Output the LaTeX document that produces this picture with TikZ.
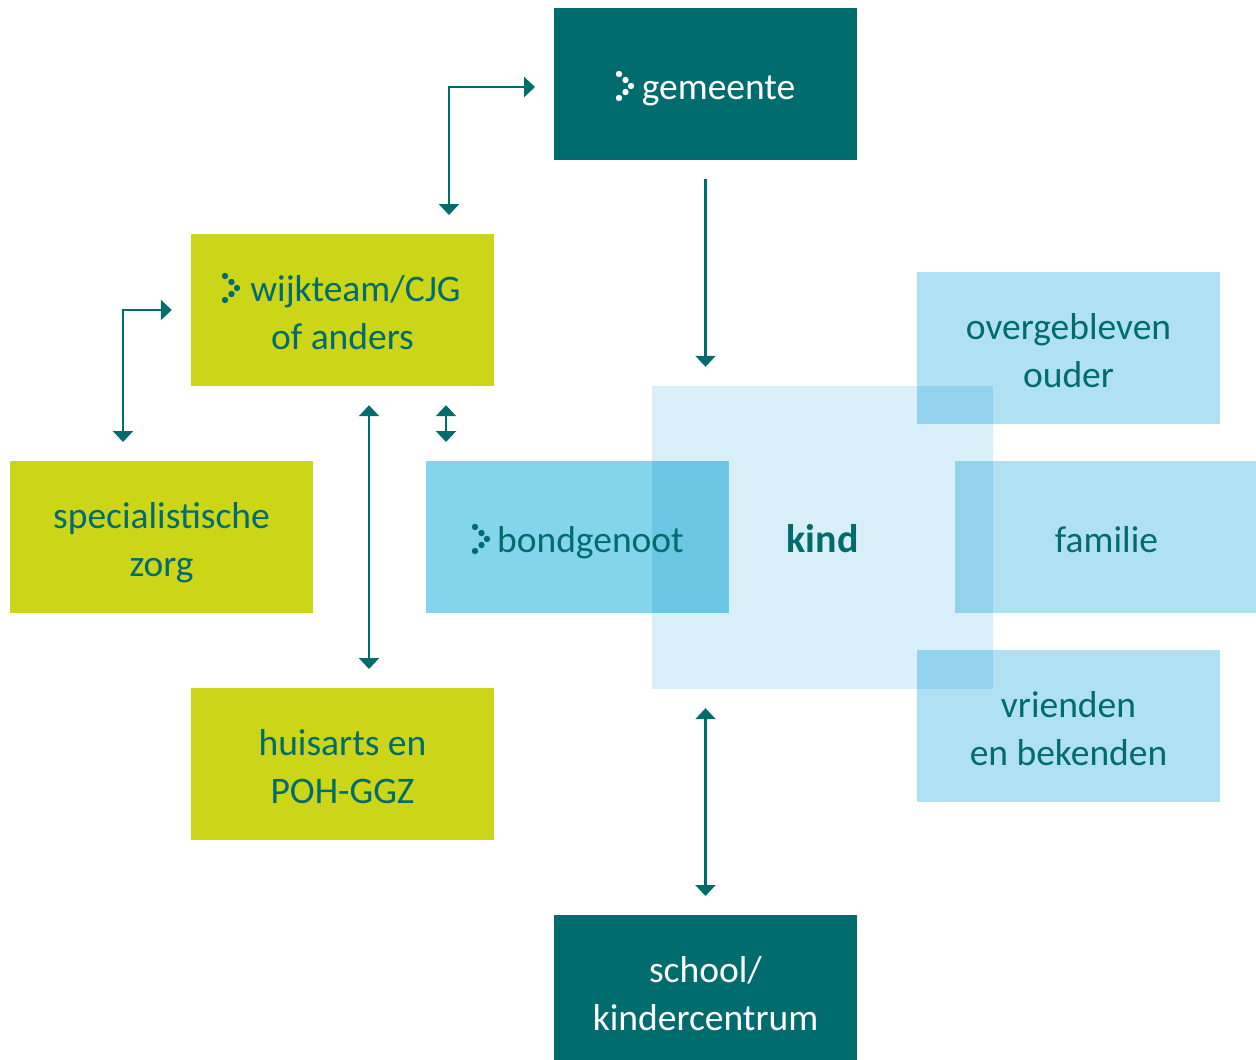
\documentclass[tikz,border=0pt]{standalone}
\usepackage{fontspec}
\setmainfont{Carlito}
\usetikzlibrary{arrows.meta}
\definecolor{teal}{HTML}{006C6E}
\definecolor{lime}{HTML}{CDD519}
\definecolor{kindblue}{HTML}{D8EFF9}
\definecolor{midblue}{HTML}{84D5EC}
\definecolor{lightblue}{HTML}{B0E1F3}
\definecolor{deepmix}{HTML}{6CC7E4}
\definecolor{softmix}{HTML}{93D2EC}
\newcommand{\chevgap}{\hspace*{26pt}}
\newcommand{\ts}{\rule[-9pt]{0pt}{48pt}}
\tikzset{
  box/.style={minimum width=303pt,minimum height=152pt,inner sep=0pt,align=center,font=\fontsize{37.5}{48}\selectfont,text=teal},
  darkbox/.style={box,fill=teal,text=white},
  limebox/.style={box,fill=lime},
  bluebox/.style={box,fill=lightblue},
  link/.style={draw=teal,line width=2.2pt,shorten >=19pt,shorten <=19pt},
  both/.style={link,{Triangle[width=20pt,length=11pt]}-{Triangle[width=20pt,length=11pt]}},
  pics/chevron/.style={code={
    \foreach \px/\py in {0/-12,6.5/-6,12/0,6.5/6,0/12} \fill[#1] (\px,\py) circle (3.2);
  }},
}
\begin{document}
\begin{tikzpicture}[x=1pt,y=-1pt]
   \useasboundingbox (0,0) rectangle (1256,1060);
   \node[darkbox] (gemeente) at (705.5,84) {\ts\chevgap gemeente};
   \node[limebox] (wijkteam) at (342.5,310) {\ts\chevgap wijkteam/CJG\\\ts of anders};
   \node[limebox] (zorg) at (161.5,537) {\ts specialistische\\\ts zorg};
   \node[limebox] (huisarts) at (342.5,764) {\ts huisarts en\\\ts POH-GGZ};
   \node[darkbox] (school) at (705.5,991) {\ts school/\\\ts kindercentrum};
   \node[box,fill=kindblue,minimum width=341pt,minimum height=303pt,font=\fontsize{40}{48}\selectfont\bfseries] (kind) at (822.5,537.5) {\ts kind};
   \node[box,fill=midblue] (bondgenoot) at (577.5,537) {};
   \node[bluebox] (familie) at (1106.5,537) {\ts familie};
   \node[bluebox] (ouder) at (1068.5,348) {\ts overgebleven\\\ts ouder};
   \node[bluebox] (vrienden) at (1068.5,726) {\ts vrienden\\\ts en bekenden};
   \fill[deepmix] (kind.west |- bondgenoot.north) rectangle (bondgenoot.south east);
   \fill[softmix] (familie.north west) rectangle (kind.east |- familie.south);
   \fill[softmix] (ouder.west |- kind.north) rectangle (kind.east |- ouder.south);
   \fill[softmix] (vrienden.north west) rectangle (kind.south east);
   \node[box] (bondtext) at (bondgenoot.center) {\ts\chevgap bondgenoot};
   \pic at (619,86) {chevron=white};
   \pic at (225,288) {chevron=teal};
   \pic at (475,539) {chevron=teal};
   \coordinate (gemeenteleft) at (554,87);
   \coordinate (wijkup) at (449,234);
   \coordinate (zorgup) at (123,461);
   \coordinate (bondup) at (446,461);
   \coordinate (huisup) at (369,688);
   \coordinate (schoolup) at (705.5,915);
   \draw[both] (wijkup) |- (gemeenteleft);
   \draw[both] (zorgup) |- (wijkteam.west);
   \draw[link,-{Triangle[width=20pt,length=11pt]}] (gemeente.south) -- (gemeente.south |- kind.north);
   \draw[both] (huisup |- wijkteam.south) -- (huisup);
   \draw[both] (bondup |- wijkteam.south) -- (bondup);
   \draw[both] (schoolup |- kind.south) -- (schoolup);
\end{tikzpicture}
\end{document}
